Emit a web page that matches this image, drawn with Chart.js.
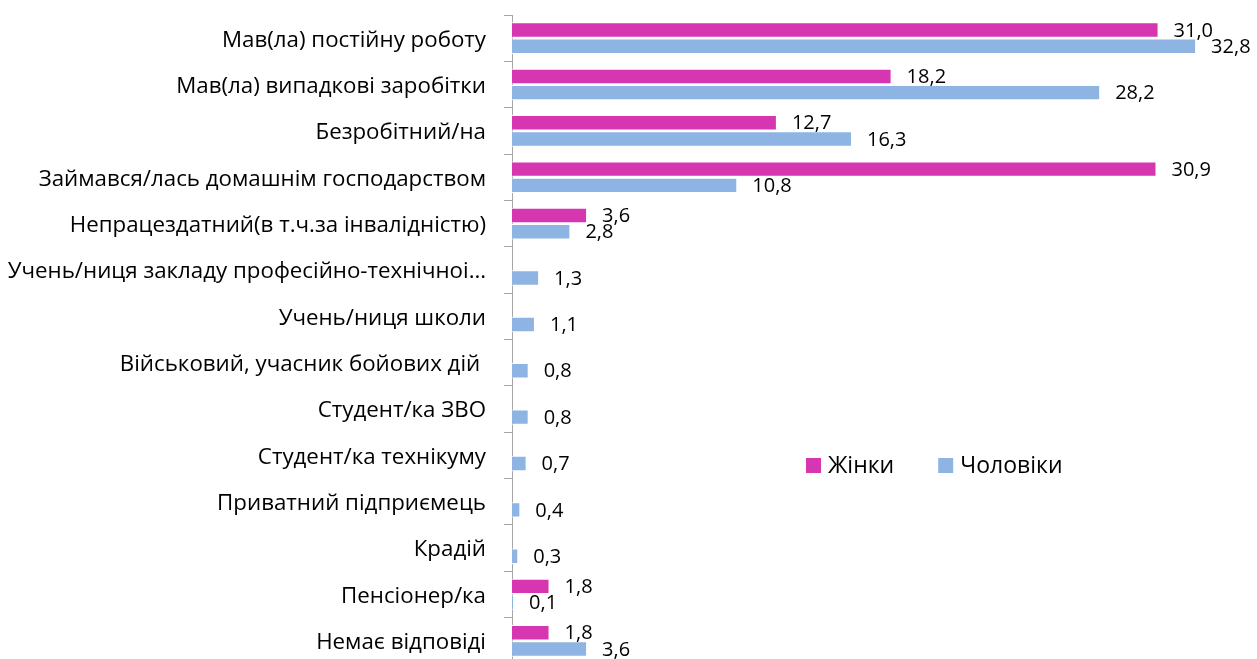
<!DOCTYPE html>
<html>
<head>
<meta charset="utf-8">
<script src="https://cdn.jsdelivr.net/npm/chart.js@4.4.1/dist/chart.umd.min.js"></script>
<style>
  html, body { margin: 0; padding: 0; background: #fff; overflow: hidden; }
  #wrap { position: relative; width: 1257px; height: 666px; }
</style>
</head>
<body>
<div id="wrap"><canvas id="chart"></canvas></div>
<script>
// categories and values
const categories = [
  'Мав(ла) постійну роботу',
  'Мав(ла) випадкові заробітки',
  'Безробітний/на',
  'Займався/лась домашнім господарством',
  'Непрацездатний(в т.ч.за інвалідністю)',
  'Учень/ниця закладу професійно-технічноі…',
  'Учень/ниця школи',
  'Військовий, учасник бойових дій ',
  'Студент/ка ЗВО',
  'Студент/ка технікуму',
  'Приватний підприємець',
  'Крадій',
  'Пенсіонер/ка',
  'Немає відповіді'
];
const women = [31.0, 18.2, 12.7, 30.9, 3.6, null, null, null, null, null, null, null, 1.8, 1.8];
const men = [32.8, 28.2, 16.3, 10.8, 2.8, 1.3, 1.1, 0.8, 0.8, 0.7, 0.4, 0.3, 0.1, 3.6];
const seriesNames = ['Жінки', 'Чоловіки'];

const FONT = '"Open Sans", "Noto Sans", sans-serif';
const fmt = (v) => v.toFixed(1).replace('.', ',');

// value labels just past the bar end
const valueLabels = {
  id: 'valueLabels',
  afterDatasetsDraw(chart) {
    const ctx = chart.ctx;
    ctx.save();
    ctx.font = '20px ' + FONT;
    ctx.fillStyle = '#000';
    ctx.textAlign = 'left';
    ctx.textBaseline = 'middle';
    chart.data.datasets.forEach((ds, i) => {
      chart.getDatasetMeta(i).data.forEach((bar, j) => {
        const v = ds.data[j];
        if (v == null) return;
        ctx.fillText(fmt(v), bar.x + 15, bar.y + 1);
      });
    });
    ctx.restore();
  }
};

// legend drawn inside the plot, right side
const insideLegend = {
  id: 'insideLegend',
  afterDraw(chart) {
    const ctx = chart.ctx;
    ctx.save();
    ctx.font = '23px ' + FONT;
    ctx.textBaseline = 'middle';
    ctx.textAlign = 'left';
    let x = 806;
    const y = 465;
    chart.data.datasets.forEach((ds) => {
      ctx.fillStyle = ds.backgroundColor;
      ctx.fillRect(x, y - 7, 15, 15);
      ctx.fillStyle = '#000';
      ctx.fillText(ds.label, x + 22, y + 1);
      x += 22 + ctx.measureText(ds.label).width + 44;
    });
    ctx.restore();
  }
};

new Chart(document.getElementById('chart'), {
  type: 'bar',
  data: {
    labels: categories,
    datasets: [
      { label: seriesNames[0], data: women, backgroundColor: '#D636B0', borderColor: '#ffffff', borderWidth: 1 },
      { label: seriesNames[1], data: men, backgroundColor: '#8EB4E3', borderColor: '#ffffff', borderWidth: 1 }
    ]
  },
  options: {
    indexAxis: 'y',
    responsive: true,
    maintainAspectRatio: false,
    animation: false,
    layout: { padding: { top: 15, bottom: 2, left: 0, right: 15 } },
    datasets: { bar: { categoryPercentage: 0.7, barPercentage: 0.95 } },
    plugins: {
      legend: { display: false },
      tooltip: { enabled: false }
    },
    scales: {
      x: { display: false, min: 0, max: 35 },
      y: {
        afterFit: (scale) => {
          scale.width = 512;
          scale.paddingTop = 0;
          scale.paddingBottom = 0;
        },
        border: { display: true, color: '#a6a6a6', width: 1 },
        grid: { drawOnChartArea: false, drawTicks: true, tickLength: 8, color: '#a6a6a6' },
        ticks: { color: '#000', padding: 18, labelOffset: 2, font: { family: FONT, size: 22.3 } }
      }
    }
  },
  plugins: [valueLabels, insideLegend]
});
</script>
</body>
</html>
